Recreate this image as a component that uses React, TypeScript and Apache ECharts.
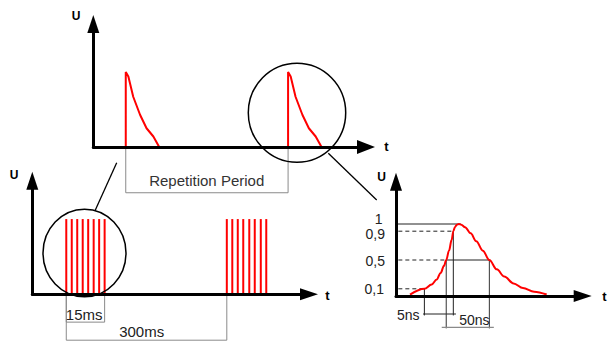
import React, { useEffect, useRef } from "react";
import * as echarts from "echarts";

// ---------- data ----------
// top panel: repeated single pulses (arbitrary time units)
const topPulseStarts = [10, 60];
const decayDt = [0, 0.8, 2.3, 4.4, 6.4, 8.5, 10.3];
const decayU = [1, 0.94, 0.67, 0.43, 0.25, 0.14, 0];
const repLabel = "Repetition Period";

// bottom-left panel: bursts of pulses
const burstPulseTimes = [6.2, 7.2, 8.2, 9.2, 10.2, 11.2, 12.2, 13.2, 35.5, 36.5, 37.5, 38.5, 39.6, 40.6, 41.7, 42.7];
const burstPulseU = 1;
const burstWidthLabel = "15ms";
const burstPeriodLabel = "300ms";

// right panel: single pulse shape
const curveT = [7.5, 15.2, 19.1, 21.8, 23.9, 25.7, 26.9, 28.4, 29.8, 30.7, 31.6, 32.6, 33.7, 35, 37, 40, 43, 46.5, 50, 54, 58, 63, 68, 74, 80.7];
const curveU = [0.02, 0.1, 0.16, 0.23, 0.32, 0.42, 0.5, 0.63, 0.78, 0.9, 0.96, 0.99, 1.0, 0.99, 0.955, 0.87, 0.76, 0.63, 0.5, 0.37, 0.27, 0.175, 0.11, 0.06, 0.02];
const levels = [0.1, 0.5, 0.9, 1];
const levelLabels = ["0,1", "0,5", "0,9", "1"];
const riseTimes = [15.2, 26.9, 30.7, 34.7];
const fallHalfTime = 50;
const riseLabel = "5ns";
const halfWidthLabel = "50ns";

const FONT = "'Liberation Sans', Arial, Helvetica, sans-serif";

function axisPair(gi: number, xmax: number, ymax: number, xArrow: number[], yArrow: number[]) {
  const line = (size: number[]) => ({
    show: true,
    onZero: false,
    symbol: ["none", "triangle"],
    symbolSize: size,
    lineStyle: { color: "#000", width: 3 },
  });
  const common = {
    type: "value",
    gridIndex: gi,
    axisTick: { show: false },
    axisLabel: { show: false },
    splitLine: { show: false },
    z: 5,
  };
  return {
    x: { ...common, min: 0, max: xmax, axisLine: line(xArrow) },
    y: { ...common, min: 0, max: ymax, axisLine: line(yArrow) },
  };
}

function seg(gi: number, pts: number[][], color: string, width: number, dashed = false, z = 3) {
  return {
    type: "line",
    xAxisIndex: gi,
    yAxisIndex: gi,
    data: pts,
    symbol: "none",
    clip: false,
    silent: true,
    z,
    lineStyle: { color, width, type: dashed ? [4, 3] : "solid" },
  };
}

function txt(x: number, y: number, text: string, size: number, opts: any = {}) {
  return {
    type: "text",
    x,
    y,
    silent: true,
    z: 10,
    style: {
      text,
      fill: opts.fill || "#000",
      fontSize: size,
      fontFamily: FONT,
      fontWeight: opts.bold ? "bold" : "normal",
      align: opts.align || "center",
      verticalAlign: "middle",
    },
  };
}

export default function App() {
  const ref = useRef<HTMLDivElement>(null);
  useEffect(() => {
    if (!ref.current) return;
    const chart = echarts.init(ref.current, null, { renderer: "svg" });

    const a0 = axisPair(0, 84, 1.64, [14, 18], [12, 18]);
    const a1 = axisPair(1, 50.5, 1.51, [12, 18], [12, 18]);
    const a2 = axisPair(2, 100, 1.5875, [12, 18], [12, 18]);

    const series: any[] = [];
    // top pulses
    topPulseStarts.forEach((s) => {
      const data = [[s, 0], ...decayDt.map((d, i) => [s + d, decayU[i]])];
      series.push(seg(0, data, "#ff0000", 2, false, 4));
    });
    // repetition bracket
    series.push(
      seg(0, [[topPulseStarts[0], 0], [topPulseStarts[0], -0.61], [topPulseStarts[1], -0.61], [topPulseStarts[1], 0]], "#8a8a8a", 1)
    );

    // bottom-left bursts
    series.push({
      type: "bar",
      xAxisIndex: 1,
      yAxisIndex: 1,
      data: burstPulseTimes.map((t) => [t, burstPulseU]),
      barWidth: 2,
      itemStyle: { color: "#ff0000" },
      silent: true,
      z: 4,
    });
    const b0 = burstPulseTimes[0];
    const b7 = burstPulseTimes[7];
    const b8 = burstPulseTimes[8];
    series.push(seg(1, [[b0, 0], [b0, -0.37], [b7, -0.37], [b7, 0]], "#8a8a8a", 1));
    series.push(seg(1, [[b0, 0], [b0, -0.61], [b8, -0.61], [b8, 0]], "#8a8a8a", 1));

    // right pulse curve
    series.push({
      type: "line",
      xAxisIndex: 2,
      yAxisIndex: 2,
      data: curveT.map((t, i) => [t, curveU[i]]),
      symbol: "none",
      smooth: 0.35,
      smoothMonotone: "x",
      silent: true,
      z: 4,
      lineStyle: { color: "#ff0000", width: 2 },
    });
    // level lines
    levels.forEach((lv, i) => {
      const isTop = lv === 1;
      series.push(seg(2, [[-10, lv], [riseTimes[i], lv]], "#222", 1, !isTop));
    });
    // half level solid between rise and fall
    series.push(seg(2, [[riseTimes[1], levels[1]], [fallHalfTime, levels[1]]], "#222", 1));
    // rise time verticals
    series.push(seg(2, [[riseTimes[0], levels[0]], [riseTimes[0], -0.27]], "#222", 1));
    series.push(seg(2, [[riseTimes[2], levels[2]], [riseTimes[2], -0.27]], "#222", 1));
    series.push(seg(2, [[riseTimes[0] - 0.7, -0.25], [riseTimes[2] + 1.4, -0.25]], "#222", 1));
    // half width verticals
    series.push(seg(2, [[riseTimes[1], levels[1]], [riseTimes[1], -0.45]], "#333", 1));
    series.push(seg(2, [[fallHalfTime, levels[1]], [fallHalfTime, -0.45]], "#333", 1));
    series.push(seg(2, [[riseTimes[1] - 2.4, -0.435], [fallHalfTime + 2.4, -0.435]], "#8a8a8a", 1.2));

    const graphic: any[] = [
      // magnifier circles
      { type: "ellipse", shape: { cx: 297, cy: 112.8, rx: 48.7, ry: 49.5 }, style: { fill: "none", stroke: "#000", lineWidth: 1.5 }, z: 6, silent: true },
      { type: "ellipse", shape: { cx: 84.5, cy: 253, rx: 41.5, ry: 43.8 }, style: { fill: "none", stroke: "#000", lineWidth: 1.5 }, z: 6, silent: true },
      // connectors
      { type: "line", shape: { x1: 116.7, y1: 162.7, x2: 95, y2: 210.7 }, style: { stroke: "#000", lineWidth: 1.3 }, z: 6, silent: true },
      { type: "line", shape: { x1: 328.3, y1: 153.3, x2: 376.7, y2: 200 }, style: { stroke: "#000", lineWidth: 1.3 }, z: 6, silent: true },
      // axis names
      txt(76, 15.5, "U", 12, { bold: true }),
      txt(386.3, 146, "t", 13, { bold: true }),
      txt(14, 174.5, "U", 12, { bold: true }),
      txt(327.3, 295, "t", 13, { bold: true }),
      txt(381.7, 176.7, "U", 12, { bold: true }),
      txt(604.5, 296.7, "t", 13, { bold: true }),
      // annotations
      txt(206.7, 180.5, repLabel, 15, { fill: "#333" }),
      txt(84.2, 314, burstWidthLabel, 15, { fill: "#222" }),
      txt(141.7, 331, burstPeriodLabel, 15, { fill: "#222" }),
      txt(408.3, 314.7, riseLabel, 14, { fill: "#222" }),
      txt(474.3, 319.7, halfWidthLabel, 14, { fill: "#222" }),
      txt(382.5, 218.5, levelLabels[3], 14, { align: "right", fill: "#222" }),
      txt(385, 233.5, levelLabels[2], 14, { align: "right", fill: "#222" }),
      txt(385, 260.5, levelLabels[1], 14, { align: "right", fill: "#222" }),
      txt(384, 288.7, levelLabels[0], 14, { align: "right", fill: "#222" }),
    ];

    chart.setOption({
      animation: false,
      backgroundColor: "#fff",
      grid: [
        { left: 93.3, top: 24, width: 272.7, height: 123 },
        { left: 32.3, top: 180.7, width: 276.7, height: 113.6 },
        { left: 396, top: 181.7, width: 186.7, height: 114.3 },
      ],
      xAxis: [a0.x, a1.x, a2.x],
      yAxis: [a0.y, a1.y, a2.y],
      series,
      graphic,
    });
    return () => chart.dispose();
  }, []);
  return (
    <div
      ref={ref}
      style={{ position: "absolute", left: 0, top: 0, width: 608, height: 343, background: "#fff" }}
    />
  );
}
